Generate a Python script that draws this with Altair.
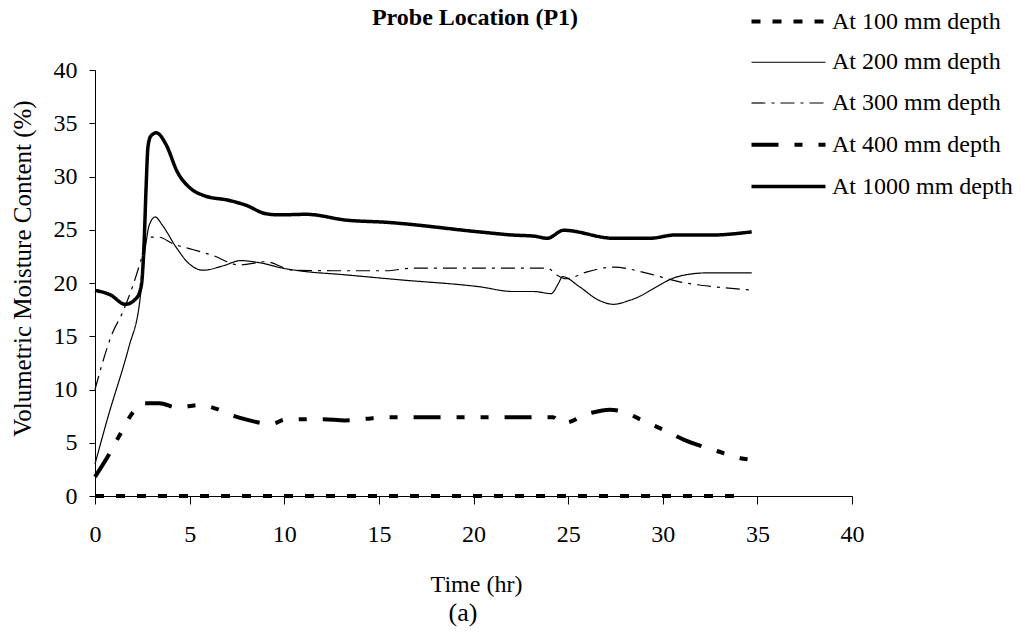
import altair as alt
import pandas as pd

# Soil moisture readings at probe P1, one series per depth
series_names = ["At 100 mm depth", "At 200 mm depth", "At 300 mm depth",
                "At 400 mm depth", "At 1000 mm depth"]

t100 = [0, 34.4]
v100 = [0.0, 0.0]

t200 = [0, 0.65, 1.8, 2.33, 2.69, 2.86, 3.18, 3.57, 4.27, 4.98, 5.72, 6.75, 7.7,
        8.7, 9.9, 11.0, 13.0, 16.1, 20.3, 22.1, 23.2, 24.1, 24.5, 24.7, 25.6,
        26.6, 27.4, 28.3, 30.9, 32.35, 34.7]
v200 = [3.0, 7.2, 14.05, 17.8, 23.7, 25.4, 26.2, 25.4, 23.4, 21.8, 21.2, 21.6, 22.1,
        21.9, 21.4, 21.1, 20.8, 20.3, 19.65, 19.2, 19.2, 19.0, 20.0, 20.6, 19.65,
        18.4, 18.0, 18.4, 20.65, 20.95, 20.95]

t300 = [0, 0.92, 1.45, 1.98, 2.42, 2.77, 3.39, 4.1, 5.16, 6.2, 7.63, 9.04, 10.45,
        12.9, 15.4, 16.8, 20.7, 23.9, 24.4, 24.9, 26.0, 27.4, 29.2, 30.9, 32.7, 34.65]
v300 = [10.0, 15.3, 17.2, 19.65, 22.1, 24.3, 24.3, 23.7, 23.15, 22.6, 21.7, 22.0, 21.2,
        21.15, 21.15, 21.4, 21.4, 21.4, 20.75, 20.4, 21.05, 21.5, 20.9, 20.1, 19.65, 19.35]

t400 = [0, 0.74, 1.36, 1.98, 2.5, 3.4, 4.36, 5.5, 6.39, 7.27, 8.16, 9.3, 10.1, 12.05,
        13.2, 14.3, 15.5, 24.2, 24.66, 26.2, 27.2, 27.95, 28.8, 30.05, 31.1, 32.9,
        34.1, 34.7]
v400 = [1.8, 3.9, 5.9, 7.8, 8.7, 8.7, 8.3, 8.55, 8.2, 7.55, 7.1, 6.75, 7.2, 7.2,
        7.1, 7.25, 7.4, 7.4, 6.8, 7.8, 8.1, 7.9, 7.2, 6.2, 5.3, 4.2, 3.55, 3.4]

t1000 = [0, 0.8, 1.6, 2.2, 2.45, 2.6, 2.7, 2.8, 2.95, 3.25, 3.74, 4.36, 5.07, 5.77,
         7.1, 7.98, 9.04, 9.75, 11.16, 13.3, 15.4, 20.3, 22.1, 23.2, 23.9, 24.76,
         27.4, 29.35, 30.6, 32.5, 34.7]
v1000 = [19.3, 18.9, 18.0, 18.6, 19.8, 24.0, 29.0, 32.8, 33.8, 34.1, 33.05, 30.4,
         28.85, 28.2, 27.75, 27.3, 26.5, 26.4, 26.45, 25.9, 25.7, 24.8, 24.5, 24.4,
         24.2, 24.95, 24.2, 24.2, 24.5, 24.5, 24.8]

x_ticks = [0, 5, 10, 15, 20, 25, 30, 35, 40]
y_ticks = [0, 5, 10, 15, 20, 25, 30, 35, 40]

# Line styles per depth
dash_styles = [[9, 12], [1, 0], [14, 6, 3, 6], [27, 16, 8, 16, 8, 16], [1, 0]]
line_widths = [4, 1.2, 1.2, 4, 3.5]

rows = []
for name, ts, vs in zip(series_names,
                        [t100, t200, t300, t400, t1000],
                        [v100, v200, v300, v400, v1000]):
    for t, v in zip(ts, vs):
        rows.append({"series": name, "time": t, "moisture": v})
df = pd.DataFrame(rows)

SERIF = "Liberation Serif"

# A long, flat legend swatch: a wide custom path drawn at a small symbol size
legend = alt.Legend(
    title=None, orient="none", legendX=673, legendY=-69,
    symbolType="M-2,0H2", symbolSize=1369, symbolStrokeColor="black",
    labelFont=SERIF, labelFontSize=24, labelColor="black", labelOffset=23,
    rowPadding=8.75, padding=0, labelLimit=400,
)

lines = alt.Chart(df).mark_line(interpolate="monotone", color="black").encode(
    x=alt.X("time:Q",
            scale=alt.Scale(domain=[0, 40], nice=False),
            axis=alt.Axis(values=x_ticks, title="Time (hr)", grid=False,
                          tickSize=8, labelPadding=18, labelFlush=False,
                          titleX=381, titleY=88, titleBaseline="middle",
                          titleAlign="center")),
    y=alt.Y("moisture:Q",
            scale=alt.Scale(domain=[0, 40], nice=False),
            axis=alt.Axis(values=y_ticks, title="Volumetric Moisture Content (%)",
                          grid=False, tickSize=6, labelPadding=12, labelFlush=False,
                          titleX=-73, titleY=198, titleBaseline="middle",
                          titleAlign="center", titleAngle=270,
                          titleFontSize=25)),
    strokeDash=alt.StrokeDash("series:N",
                              scale=alt.Scale(domain=series_names, range=dash_styles),
                              legend=legend),
    strokeWidth=alt.StrokeWidth("series:N",
                                scale=alt.Scale(type="ordinal", domain=series_names,
                                                range=line_widths),
                                legend=legend),
    order=alt.Order("time:Q"),
)

chart_title = alt.Chart(pd.DataFrame({"label": ["Probe Location (P1)"]})).mark_text(
    font=SERIF, fontSize=24, fontWeight="bold", color="black",
    baseline="middle", align="center"
).encode(text="label:N", x=alt.value(380), y=alt.value(-52))

panel_label = alt.Chart(pd.DataFrame({"label": ["(a)"]})).mark_text(
    font=SERIF, fontSize=26, color="black", baseline="middle", align="center"
).encode(text="label:N", x=alt.value(368), y=alt.value(543))

chart = alt.layer(lines, chart_title, panel_label).properties(
    width=757, height=426,
    padding={"left": 95, "top": 70, "right": 181, "bottom": 139},
    autosize=alt.AutoSizeParams(type="none"),
    background="white",
).configure_view(stroke=None).configure_axis(
    domainColor="black", tickColor="black", labelColor="black", titleColor="black",
    labelFont=SERIF, titleFont=SERIF, labelFontSize=24, titleFontSize=24,
    titleFontWeight="normal", domainWidth=1, tickWidth=1,
)

chart.save("out.html", embed_options={"renderer": "svg", "actions": False})
